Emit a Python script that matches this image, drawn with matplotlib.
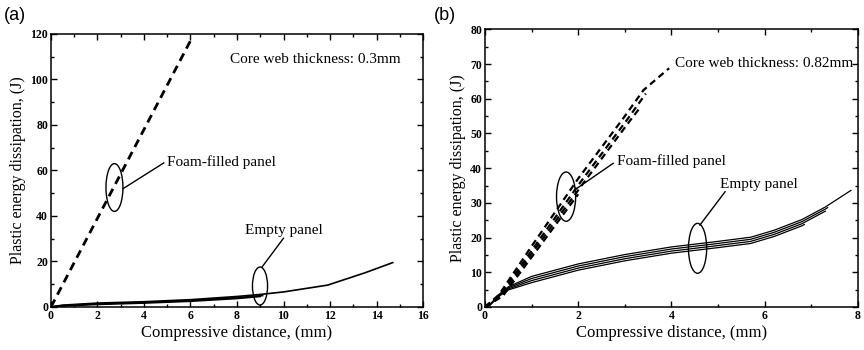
import matplotlib
matplotlib.use("Agg")
import matplotlib.pyplot as plt
from matplotlib.patches import Ellipse
from matplotlib.ticker import MultipleLocator

plt.rcParams['font.family'] = ['Liberation Serif', 'DejaVu Serif']

# (a) core web thickness 0.3 mm
foam_a_x = [0, 6.05]
foam_a_y = [0, 118]
empty_a = [
    ([0, 0.5, 2, 4, 6, 8, 9, 10, 11.9, 13.5, 14.7],
     [0, 0.8, 1.7, 2.3, 3.2, 4.6, 5.5, 6.6, 9.6, 15.0, 19.5]),
    ([0, 0.5, 2, 4, 6, 8, 9.1],
     [0, 0.6, 1.4, 2.0, 2.8, 4.1, 5.0]),
    ([0, 0.5, 2, 4, 6, 8, 9.0],
     [0, 0.4, 1.1, 1.7, 2.5, 3.7, 4.6]),
]

# (b) core web thickness 0.82 mm
foam_b = [
    ([0, 0.3, 1.0, 2.0, 3.0, 3.4, 3.95], [0, 3.5, 17.5, 37, 55, 62.5, 68.8]),
    ([0, 0.32, 1.04, 2.05, 3.05, 3.45], [0, 3.3, 17, 36, 54, 61.5]),
    ([0, 0.35, 1.08, 2.1, 3.1, 3.3], [0, 3.2, 16.8, 35.5, 53.5, 57]),
    ([0, 0.38, 1.12, 2.0], [0, 3.1, 16.5, 32.5]),
]
empty_b_x = [0, 0.1, 0.3, 0.5, 1, 2, 3, 4, 5, 5.7, 6.2, 6.8, 7.3, 7.85]
empty_b_y = [0, 0.6, 3.6, 5.8, 8.8, 12.4, 15.1, 17.3, 18.9, 20.1, 22.1, 25.2, 28.8, 33.6]
empty_b_offsets = [0.0, -0.6, -1.2, -1.8]
empty_b_ends = [7.85, 7.35, 7.3, 6.85]

fig = plt.figure(figsize=(8.64, 3.5), dpi=100)
ax1 = fig.add_axes([0.059, 0.123, 0.4306, 0.78])
ax2 = fig.add_axes([0.5613, 0.123, 0.4317, 0.793])


def style(ax, xmax, ymax, xmaj, ymaj):
    ax.set_xlim(0, xmax)
    ax.set_ylim(0, ymax)
    ax.xaxis.set_major_locator(MultipleLocator(xmaj))
    ax.xaxis.set_minor_locator(MultipleLocator(xmaj / 2))
    ax.yaxis.set_major_locator(MultipleLocator(ymaj))
    ax.yaxis.set_minor_locator(MultipleLocator(ymaj / 2))
    ax.tick_params(which='both', direction='in', top=True, right=True, width=1.0)
    ax.tick_params(which='major', length=4, labelsize=8.5, pad=2)
    ax.tick_params(which='minor', length=2.5)
    for lab in ax.get_xticklabels() + ax.get_yticklabels():
        lab.set_fontweight('bold')
    for s in ax.spines.values():
        s.set_linewidth(1.1)
    ax.set_xlabel('Compressive distance, (mm)', fontsize=12, labelpad=2)
    ax.set_ylabel('Plastic energy dissipation, (J)', fontsize=11.5, labelpad=3)


# panel (a)
ax1.plot(foam_a_x, foam_a_y, color='black', lw=2.0, ls=(0, (3, 2)))
for xs, ys in empty_a:
    ax1.plot(xs, ys, color='black', lw=1.2)
ax1.add_patch(Ellipse((2.73, 52.5), 0.73, 21, fill=False, lw=1.0, ec='black'))
ax1.add_patch(Ellipse((8.99, 9.2), 0.65, 16.7, fill=False, lw=1.0, ec='black'))
ax1.plot([3.1, 4.85], [52, 63.3], color='black', lw=1.0)
ax1.plot([9.08, 10.0], [17.6, 30.2], color='black', lw=1.0)
ax1.text(5.0, 63.7, 'Foam-filled panel', fontsize=11, va='center', ha='left')
ax1.text(10.0, 33.8, 'Empty panel', fontsize=11, va='center', ha='center')
ax1.text(15.05, 108.6, 'Core web thickness: 0.3mm', fontsize=11, va='center', ha='right')
style(ax1, 16, 120, 2, 20)

# panel (b)
for xs, ys in foam_b:
    ax2.plot(xs, ys, color='black', lw=1.6, ls=(0, (3, 2)))
for off, xend in zip(empty_b_offsets, empty_b_ends):
    xs = [x for x in empty_b_x if x <= xend] + [xend]
    ys = [max(0, y + off * min(1, x)) for x, y in zip(empty_b_x, empty_b_y) if x <= xend]
    # close the curve at its own end point
    prev_x = [x for x in empty_b_x if x <= xend][-1]
    nxt = empty_b_x.index(prev_x) + 1
    if nxt < len(empty_b_x) and xend > prev_x:
        t = (xend - prev_x) / (empty_b_x[nxt] - prev_x)
        ys.append(ys[-1] + t * (empty_b_y[nxt] + off - ys[-1]))
    else:
        xs = xs[:-1]
    ax2.plot(xs, ys, color='black', lw=0.9)
ax2.add_patch(Ellipse((1.74, 31.8), 0.41, 14.2, fill=False, lw=1.0, ec='black'))
ax2.add_patch(Ellipse((4.56, 16.9), 0.39, 14.4, fill=False, lw=1.0, ec='black'))
ax2.plot([1.92, 2.75], [33.7, 41.4], color='black', lw=1.0)
ax2.plot([4.61, 5.15], [23.6, 33.2], color='black', lw=1.0)
ax2.text(2.83, 42.0, 'Foam-filled panel', fontsize=11, va='center', ha='left')
ax2.text(5.88, 35.3, 'Empty panel', fontsize=11, va='center', ha='center')
ax2.text(7.9, 70.3, 'Core web thickness: 0.82mm', fontsize=11, va='center', ha='right')
style(ax2, 8, 80, 2, 10)
ax2.xaxis.set_minor_locator(MultipleLocator(1))
ax2.yaxis.set_minor_locator(MultipleLocator(5))

fig.text(0.005, 0.957, '(a)', fontsize=13, family=['Liberation Sans'], va='center', ha='left')
fig.text(0.502, 0.957, '(b)', fontsize=13, family=['Liberation Sans'], va='center', ha='left')

fig.savefig('out.png', dpi=100)
